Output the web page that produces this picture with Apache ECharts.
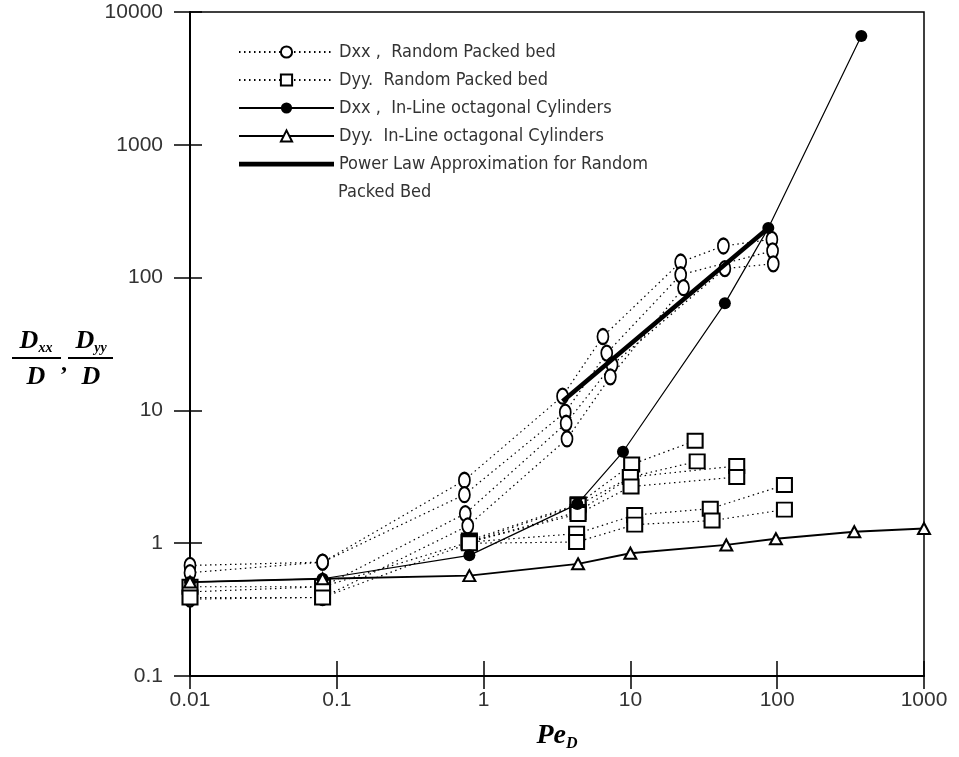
<!DOCTYPE html>
<html>
<head>
<meta charset="utf-8">
<script src="https://cdn.jsdelivr.net/npm/echarts@6/dist/echarts.min.js"></script>
<style>
  html, body { margin: 0; background: #fff; }
  #chart { width: 959px; height: 757px; }
</style>
</head>
<body>
<div id="chart"></div>
<script>
// Legend names
const nameDxxRandom = 'Dxx ,  Random Packed bed';
const nameDyyRandom = 'Dyy.  Random Packed bed';
const nameDxxInline = 'Dxx ,  In-Line octagonal Cylinders';
const nameDyyInline = 'Dyy.  In-Line octagonal Cylinders';
const namePowerLaw = 'Power Law Approximation for Random Packed Bed';

// Dxx, random packed bed (open circles), several runs
const dxxRand1X = [0.01, 0.08, 0.74, 3.45, 6.5, 22, 43, 92];
const dxxRand1Y = [0.68, 0.72, 2.98, 12.8, 36, 131, 173, 194];
const dxxRand2X = [0.01, 0.08, 0.74, 3.6, 6.9, 22, 93];
const dxxRand2Y = [0.6, 0.72, 2.32, 9.7, 27, 105, 159];
const dxxRand3X = [0.01, 0.08, 0.75, 3.65, 7.5, 44, 94];
const dxxRand3Y = [0.43, 0.47, 1.67, 8.0, 22, 117, 127];
const dxxRand4X = [0.01, 0.08, 0.78, 3.7, 7.3, 23];
const dxxRand4Y = [0.38, 0.39, 1.35, 6.1, 17.9, 84];

// Dyy, random packed bed (open squares), several runs
const dyyRand1X = [0.8, 4.4, 10.2, 27.6];
const dyyRand1Y = [1.05, 1.97, 3.92, 5.9];
const dyyRand2X = [0.8, 4.4, 10, 28.5];
const dyyRand2Y = [1.02, 1.93, 3.15, 4.13];
const dyyRand3X = [0.8, 4.4, 10, 53];
const dyyRand3Y = [1.02, 1.72, 3.15, 3.81];
const dyyRand4X = [0.8, 4.4, 10.1, 53];
const dyyRand4Y = [1.02, 1.66, 2.67, 3.15];
const dyyRand5X = [0.01, 0.08, 0.8, 4.3, 10.7, 35, 112];
const dyyRand5Y = [0.47, 0.47, 1.02, 1.18, 1.63, 1.82, 2.74];
const dyyRand6X = [0.01, 0.08, 0.8, 4.3, 10.7, 36, 112];
const dyyRand6Y = [0.39, 0.39, 1.0, 1.02, 1.38, 1.48, 1.79];

// In-line octagonal cylinders
const dxxInlineX = [0.01, 0.08, 0.8, 4.35, 8.9, 44, 87, 374];
const dxxInlineY = [0.51, 0.54, 0.81, 1.97, 4.88, 64, 236, 6600];
const dyyInlineX = [0.01, 0.08, 0.8, 4.4, 10, 45, 98, 335, 1000];
const dyyInlineY = [0.51, 0.54, 0.57, 0.7, 0.84, 0.97, 1.08, 1.22, 1.29];

// Power law fit for random packed bed
const powerLawX = [3.45, 87];
const powerLawY = [11.7, 236];

const pairs = (xs, ys) => xs.map((x, i) => [x, ys[i]]);

const labelFont = { fontFamily: '"Liberation Sans", Arial, sans-serif', fontSize: 21, color: '#333' };
const legendFont = '"DejaVu Sans Condensed", "Liberation Sans", sans-serif';
const serif = '"Liberation Serif", "DejaVu Serif", serif';

const dotted = { type: [1.5, 3.5], width: 1.2, color: '#000' };

function randomSeries(name, xs, ys, symbol, size) {
  return {
    name: name,
    type: 'line',
    data: pairs(xs, ys),
    symbol: symbol,
    symbolSize: size,
    itemStyle: { color: '#000', borderWidth: 1.2 },
    lineStyle: dotted,
    z: 2
  };
}

const chartDom = document.getElementById('chart');
const myChart = echarts.init(chartDom);

const logAxisBase = {
  type: 'log',
  logBase: 10,
  splitLine: { show: false },
  minorTick: { show: false }
};

const option = {
  animation: false,
  backgroundColor: '#fff',
  grid: {
    left: 190, right: 35, top: 12, bottom: 77,
    show: true, borderColor: '#000', borderWidth: 1.5
  },
  legend: {
    orient: 'vertical',
    left: 238,
    top: 43,
    padding: 0,
    itemWidth: 95,
    itemHeight: 14,
    itemGap: 10,
    data: [
      nameDxxRandom, nameDyyRandom, nameDxxInline, nameDyyInline,
      { name: namePowerLaw, icon: 'path://M0 0H100V5H0Z' }
    ],
    formatter: n => (n === namePowerLaw ? 'Power Law Approximation for Random' : n),
    textStyle: { fontFamily: legendFont, fontSize: 18, color: '#333' },
    selectedMode: false
  },
  xAxis: [
    Object.assign({}, logAxisBase, {
      min: 0.01, max: 1000,
      axisLine: { lineStyle: { color: '#000', width: 2 } },
      axisTick: { length: 13, lineStyle: { color: '#000', width: 1.5 } },
      axisLabel: Object.assign({ margin: 14, formatter: v => String(Number(v.toPrecision(6))) }, labelFont),
      name: '{a|Pe}{b|D}',
      nameLocation: 'middle',
      nameGap: 44,
      nameTextStyle: {
        rich: {
          a: { fontFamily: serif, fontSize: 28, fontWeight: 'bold', fontStyle: 'italic', color: '#000', lineHeight: 32 },
          b: { fontFamily: serif, fontSize: 16, fontWeight: 'bold', fontStyle: 'italic', color: '#000', lineHeight: 18, verticalAlign: 'bottom' }
        }
      }
    }),
    Object.assign({}, logAxisBase, {
      min: 0.01, max: 1000, position: 'bottom',
      axisLine: { show: false },
      axisTick: { inside: true, length: 15, lineStyle: { color: '#000', width: 1.5 } },
      axisLabel: { show: false }
    })
  ],
  yAxis: [
    Object.assign({}, logAxisBase, {
      min: 0.1, max: 10000,
      axisLine: { lineStyle: { color: '#000', width: 2 } },
      axisTick: { length: 16, lineStyle: { color: '#000', width: 1.5 } },
      axisLabel: Object.assign({ margin: 27, formatter: v => String(Number(v.toPrecision(6))) }, labelFont)
    }),
    Object.assign({}, logAxisBase, {
      min: 0.1, max: 10000, position: 'left',
      axisLine: { show: false },
      axisTick: { inside: true, length: 12, lineStyle: { color: '#000', width: 1.5 } },
      axisLabel: { show: false }
    })
  ],
  graphic: [
    // second line of the power-law legend entry
    { type: 'text', left: 338, top: 183, style: { text: 'Packed Bed', font: '18px ' + legendFont, fill: '#333' } },
    // y-axis title: Dxx/D , Dyy/D
    { type: 'text', x: 36, y: 341, style: {
        text: '{d|D}{s|xx}', align: 'center', verticalAlign: 'middle',
        rich: { d: { font: 'bold italic 26px ' + serif, fill: '#000', lineHeight: 28 },
                s: { font: 'bold italic 14px ' + serif, fill: '#000', lineHeight: 15, verticalAlign: 'bottom' } } } },
    { type: 'line', shape: { x1: 12, y1: 358, x2: 61, y2: 358 }, style: { stroke: '#000', lineWidth: 2 } },
    { type: 'text', x: 36, y: 377, style: { text: 'D', font: 'bold italic 26px ' + serif, fill: '#000', align: 'center', verticalAlign: 'middle' } },
    { type: 'text', x: 64, y: 364, style: { text: ',', font: 'bold 24px ' + serif, fill: '#000', align: 'center', verticalAlign: 'middle' } },
    { type: 'text', x: 91, y: 341, style: {
        text: '{d|D}{s|yy}', align: 'center', verticalAlign: 'middle',
        rich: { d: { font: 'bold italic 26px ' + serif, fill: '#000', lineHeight: 28 },
                s: { font: 'bold italic 14px ' + serif, fill: '#000', lineHeight: 15, verticalAlign: 'bottom' } } } },
    { type: 'line', shape: { x1: 68, y1: 358, x2: 113, y2: 358 }, style: { stroke: '#000', lineWidth: 2 } },
    { type: 'text', x: 91, y: 377, style: { text: 'D', font: 'bold italic 26px ' + serif, fill: '#000', align: 'center', verticalAlign: 'middle' } }
  ],
  series: [
    randomSeries(nameDxxRandom, dxxRand1X, dxxRand1Y, 'emptyCircle', [11, 15]),
    randomSeries(nameDxxRandom, dxxRand2X, dxxRand2Y, 'emptyCircle', [11, 15]),
    randomSeries(nameDxxRandom, dxxRand3X, dxxRand3Y, 'emptyCircle', [11, 15]),
    randomSeries(nameDxxRandom, dxxRand4X, dxxRand4Y, 'emptyCircle', [11, 15]),
    randomSeries(nameDyyRandom, dyyRand1X, dyyRand1Y, 'emptyRect', [15, 14]),
    randomSeries(nameDyyRandom, dyyRand2X, dyyRand2Y, 'emptyRect', [15, 14]),
    randomSeries(nameDyyRandom, dyyRand3X, dyyRand3Y, 'emptyRect', [15, 14]),
    randomSeries(nameDyyRandom, dyyRand4X, dyyRand4Y, 'emptyRect', [15, 14]),
    randomSeries(nameDyyRandom, dyyRand5X, dyyRand5Y, 'emptyRect', [15, 14]),
    randomSeries(nameDyyRandom, dyyRand6X, dyyRand6Y, 'emptyRect', [15, 14]),
    {
      name: nameDxxInline,
      type: 'line',
      data: pairs(dxxInlineX, dxxInlineY),
      symbol: 'circle',
      symbolSize: 12,
      itemStyle: { color: '#000' },
      lineStyle: { color: '#000', width: 1.2 },
      z: 3
    },
    {
      name: nameDyyInline,
      type: 'line',
      data: pairs(dyyInlineX, dyyInlineY),
      symbol: 'emptyTriangle',
      symbolSize: [12, 11],
      itemStyle: { color: '#000', borderWidth: 1.3 },
      lineStyle: { color: '#000', width: 1.8 },
      z: 3
    },
    {
      name: namePowerLaw,
      type: 'line',
      data: pairs(powerLawX, powerLawY),
      symbol: 'none',
      itemStyle: { color: '#000' },
      lineStyle: { color: '#000', width: 4.5 },
      z: 5
    }
  ]
};

myChart.setOption(option);

window.addEventListener('resize', () => {
  myChart.resize();
});
</script>
</body>
</html>
